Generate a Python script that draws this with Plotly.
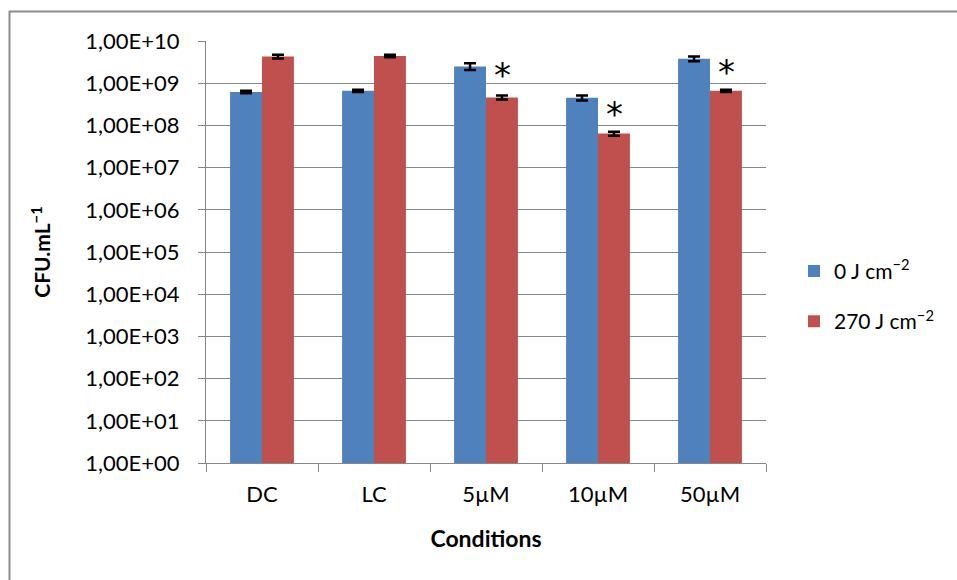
import math
import plotly.graph_objects as go

categories = ["DC", "LC", "5µM", "10µM", "50µM"]
vals_0 = [6.2e8, 6.6e8, 2.5e9, 4.5e8, 3.8e9]
err_0 = [0.4e8, 0.4e8, 0.45e9, 0.6e8, 0.5e9]
vals_270 = [4.3e9, 4.4e9, 4.6e8, 6.4e7, 6.6e8]
err_270 = [0.45e9, 0.3e9, 0.5e8, 0.7e7, 0.4e8]
star_cats = ["5µM", "10µM", "50µM"]
star_y = [2.2e9, 2.6e8, 2.5e9]
ytick_vals = [10**i for i in range(11)]
ytick_text = ["1,00E+%02d" % i for i in range(11)]

FONT = "Lato, Open Sans, sans-serif"

fig = go.Figure()
fig.add_trace(go.Bar(
    x=categories, y=vals_0, name="0 J cm<sup>−2</sup>", legendgroup="g0",
    marker=dict(color="#4F81BD", line=dict(width=0)),
    error_y=dict(type="data", array=err_0, color="black", thickness=2.5, width=6),
))
fig.add_trace(go.Bar(
    x=categories, y=vals_270, name="270 J cm<sup>−2</sup>", legendgroup="g1",
    marker=dict(color="#C0504D", line=dict(width=0)),
    error_y=dict(type="data", array=err_270, color="black", thickness=2.5, width=6),
))

for c, y in zip(star_cats, star_y):
    fig.add_annotation(x=c, y=math.log10(y), text="*", showarrow=False,
                       xshift=16, yshift=-6,
                       font=dict(size=34, color="black", family="DejaVu Sans"))

fig.update_layout(
    width=957, height=580,
    margin=dict(l=206, r=191, t=41, b=117),
    paper_bgcolor="white", plot_bgcolor="white",
    barmode="group", bargap=0.43, bargroupgap=0,
    font=dict(family=FONT, size=20, color="black"),
    showlegend=True,
    legend=dict(x=1.05, y=0.395, xanchor="left", yanchor="middle",
                font=dict(size=21, family=FONT), traceorder="grouped", tracegroupgap=20,
                itemsizing="constant", itemwidth=30, bgcolor="rgba(0,0,0,0)"),
    shapes=[
        dict(type="line", xref="paper", yref="paper",
             x0=(9.5 - 206) / 560, x1=(9.5 - 206) / 560,
             y0=(463 - 11) / 422, y1=(463 - 590) / 422,
             line=dict(color="#8c8c8c", width=2)),
        dict(type="line", xref="paper", yref="paper",
             x0=(9 - 206) / 560, x1=(970 - 206) / 560,
             y0=(463 - 11.5) / 422, y1=(463 - 11.5) / 422,
             line=dict(color="#8c8c8c", width=2)),
    ],
)

fig.update_xaxes(
    type="category",
    showline=True, linecolor="#868686", linewidth=1,
    ticks="outside", tickson="boundaries", ticklen=8, tickcolor="#868686",
    tickfont=dict(size=22, family=FONT), ticklabelstandoff=12,
    title=dict(text="<b>Conditions</b>", font=dict(size=23, family=FONT), standoff=24),
    showgrid=False,
)
fig.update_yaxes(
    type="log", range=[0, 10],
    tickvals=ytick_vals, ticktext=ytick_text,
    showline=True, linecolor="#868686", linewidth=1,
    ticks="outside", ticklen=7, tickcolor="#868686",
    tickfont=dict(size=22, family=FONT), ticklabelstandoff=14,
    showgrid=True, gridcolor="#868686", gridwidth=1,
    title=dict(text="<b>CFU.mL<sup>−1</sup></b>", font=dict(size=21, family=FONT), standoff=28),
    zeroline=False,
)

fig.write_html("out.html")
